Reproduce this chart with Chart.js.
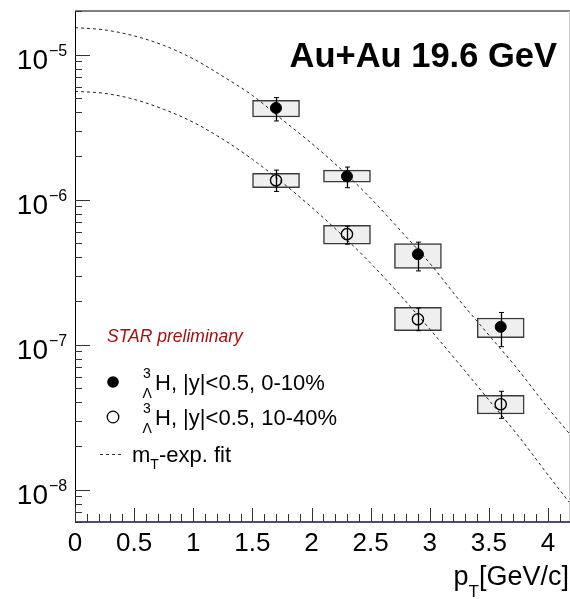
<!DOCTYPE html>
<html>
<head>
<meta charset="utf-8">
<script src="https://cdn.jsdelivr.net/npm/chart.js@4.4.1/dist/chart.umd.min.js"></script>
<style>
html, body { margin: 0; padding: 0; background: #fff; }
#wrap { width: 570px; height: 599px; }
</style>
</head>
<body>
<div id="wrap"><canvas id="ptChart" width="570" height="599"></canvas></div>
<script>
// pT bin centres [GeV/c]
const ptCenters = [1.7, 2.3, 2.9, 3.6];

// 0-10% central (filled)
const yield0_10 = [4.29e-6, 1.45e-6, 4.21e-7, 1.33e-7];
const statLo0_10 = [3.49e-6, 1.21e-6, 3.23e-7, 9.7e-8];
const statHi0_10 = [5.06e-6, 1.68e-6, 5.10e-7, 1.67e-7];
const sysLo0_10 = [3.72e-6, 1.32e-6, 3.36e-7, 1.12e-7];
const sysHi0_10 = [4.84e-6, 1.60e-6, 4.99e-7, 1.53e-7];

// 10-40% (open)
const yield10_40 = [1.36e-6, 5.79e-7, 1.50e-7, 3.89e-8];
const statLo10_40 = [1.14e-6, 4.94e-7, 1.25e-7, 3.11e-8];
const statHi10_40 = [1.60e-6, 6.57e-7, 1.79e-7, 4.78e-8];
const sysLo10_40 = [1.21e-6, 4.94e-7, 1.25e-7, 3.33e-8];
const sysHi10_40 = [1.52e-6, 6.67e-7, 1.81e-7, 4.48e-8];

// mT-exponential fit curves
const fitPt = [0, 0.25, 0.5, 0.75, 1, 1.25, 1.5, 1.75, 2, 2.25, 2.5, 2.75, 3, 3.25, 3.5, 3.75, 4, 4.19];
const fit0_10 = [1.535e-5, 1.482e-5, 1.347e-5, 1.159e-5, 9.36e-6, 7.09e-6, 5.24e-6, 3.58e-6, 2.45e-6,
                 1.62e-6, 1.024e-6, 6.16e-7, 3.65e-7, 2.03e-7, 1.166e-7, 6.69e-8, 3.66e-8, 2.39e-8];
const fit10_40 = [5.59e-6, 5.41e-6, 4.92e-6, 4.20e-6, 3.42e-6, 2.61e-6, 1.90e-6, 1.32e-6, 8.88e-7,
                  5.79e-7, 3.65e-7, 2.20e-7, 1.283e-7, 7.36e-8, 4.16e-8, 2.35e-8, 1.267e-8, 8.0e-9];

// axis ticks
const xTickValues = [0, 0.5, 1, 1.5, 2, 2.5, 3, 3.5, 4];
const xTickLabels = ['0', '0.5', '1', '1.5', '2', '2.5', '3', '3.5', '4'];
const yDecades = [-5, -6, -7, -8];

const FONT = "'Liberation Sans', Arial, Helvetica, sans-serif";

const toPoints = (xs, ys) => xs.map((x, i) => ({ x: x, y: ys[i] }));
const toBoxes = (xs, lo, hi) => xs.map((x, i) => ({ x: x, y: [lo[i], hi[i]] }));

const rootFrame = {
    id: 'rootFrame',
    afterDatasetsDraw(chart) {
        const ctx = chart.ctx;
        const xs = chart.scales.x, ys = chart.scales.y;
        ctx.save();
        ctx.strokeStyle = '#000';
        const bars = [[yield0_10, statLo0_10, statHi0_10], [yield10_40, statLo10_40, statHi10_40]];
        bars.forEach(([c, lo, hi]) => {
            ptCenters.forEach((x, i) => {
                const px = Math.round(xs.getPixelForValue(x)) + 0.5;
                const pLo = ys.getPixelForValue(lo[i]);
                const pHi = ys.getPixelForValue(hi[i]);
                ctx.lineWidth = 1.3;
                ctx.beginPath();
                ctx.moveTo(px, pLo);
                ctx.lineTo(px, pHi);
                ctx.stroke();
                ctx.lineWidth = 1;
                ctx.beginPath();
                ctx.moveTo(px - 2.5, pLo);
                ctx.lineTo(px + 2.5, pLo);
                ctx.moveTo(px - 2.5, pHi);
                ctx.lineTo(px + 2.5, pHi);
                ctx.stroke();
            });
        });
        ctx.restore();
    },
    afterDraw(chart) {
        const ctx = chart.ctx;
        const { left, right, top, bottom } = chart.chartArea;
        const xs = chart.scales.x, ys = chart.scales.y;
        ctx.save();

        // frame
        ctx.strokeStyle = '#808080';
        ctx.lineWidth = 2;
        ctx.beginPath();
        ctx.moveTo(left, top);
        ctx.lineTo(right, top);
        ctx.stroke();
        ctx.lineWidth = 1;
        ctx.strokeStyle = '#c8c8c8';
        ctx.beginPath();
        ctx.moveTo(right - 0.5, top);
        ctx.lineTo(right - 0.5, bottom);
        ctx.stroke();
        ctx.strokeStyle = '#000';
        ctx.beginPath();
        ctx.moveTo(left + 0.5, top);
        ctx.lineTo(left + 0.5, bottom);
        ctx.stroke();
        ctx.strokeStyle = '#14143a';
        ctx.lineWidth = 1.5;
        ctx.beginPath();
        ctx.moveTo(left, bottom);
        ctx.lineTo(right, bottom);
        ctx.stroke();

        // y ticks (log)
        ctx.strokeStyle = '#333';
        ctx.lineWidth = 1;
        for (let e = -9; e <= -4; e++) {
            for (let k = 1; k <= 9; k++) {
                const v = k * Math.pow(10, e);
                if (v < ys.min || v > ys.max) continue;
                const py = Math.round(ys.getPixelForValue(v)) + 0.5;
                const len = k === 1 ? 15 : 7;
                ctx.beginPath();
                ctx.moveTo(left, py);
                ctx.lineTo(left + len, py);
                ctx.stroke();
            }
        }
        // x ticks
        for (let i = 0; i <= 41; i++) {
            const v = i / 10;
            if (v > xs.max) continue;
            const px = Math.round(xs.getPixelForValue(v)) + 0.5;
            const len = i % 5 === 0 ? 14 : 8;
            ctx.beginPath();
            ctx.moveTo(px, bottom);
            ctx.lineTo(px, bottom - len);
            ctx.stroke();
        }

        ctx.fillStyle = '#000';
        // x labels
        ctx.font = '26px ' + FONT;
        ctx.textAlign = 'center';
        ctx.textBaseline = 'alphabetic';
        xTickValues.forEach((v, i) => {
            ctx.fillText(xTickLabels[i], xs.getPixelForValue(v), 551);
        });
        // y labels
        yDecades.forEach((e) => {
            const py = ys.getPixelForValue(Math.pow(10, e));
            ctx.font = '28px ' + FONT;
            ctx.textAlign = 'right';
            ctx.fillText('10', 48, py + 14);
            ctx.font = '16px ' + FONT;
            ctx.textAlign = 'left';
            ctx.fillText('\u2212' + Math.abs(e), 49, py + 1);
        });

        // x title
        ctx.textAlign = 'left';
        ctx.font = '27px ' + FONT;
        const unit = '[GeV/c]';
        const unitW = ctx.measureText(unit).width;
        ctx.font = '17px ' + FONT;
        const tW = ctx.measureText('T').width;
        ctx.font = '27px ' + FONT;
        const pW = ctx.measureText('p').width;
        let tx = 569 - unitW;
        ctx.fillText(unit, tx, 585);
        ctx.font = '17px ' + FONT;
        ctx.fillText('T', tx - tW, 597);
        ctx.font = '27px ' + FONT;
        ctx.fillText('p', tx - tW - pW, 585);

        // collision label
        ctx.font = 'bold 34.5px ' + FONT;
        ctx.textAlign = 'right';
        ctx.fillText('Au+Au 19.6 GeV', 557, 67);

        // preliminary
        ctx.textAlign = 'left';
        ctx.font = 'italic 17.5px ' + FONT;
        ctx.fillStyle = '#a50f0f';
        ctx.fillText('STAR preliminary', 107, 342);

        // legend
        ctx.fillStyle = '#000';
        ctx.strokeStyle = '#000';
        const rows = [
            { y: 390, filled: true, text: 'H, |y|<0.5, 0-10%' },
            { y: 425, filled: false, text: 'H, |y|<0.5, 10-40%' }
        ];
        rows.forEach((r) => {
            ctx.beginPath();
            ctx.arc(113, r.y - 8, 5.8, 0, Math.PI * 2);
            if (r.filled) {
                ctx.fill();
            } else {
                ctx.lineWidth = 1.3;
                ctx.stroke();
            }
            ctx.font = '14px ' + FONT;
            ctx.fillText('3', 143, r.y - 12);
            ctx.fillText('\u039B', 142.5, r.y + 8);
            ctx.font = '22px ' + FONT;
            ctx.fillText(r.text, 155, r.y);
        });
        ctx.lineWidth = 1;
        ctx.strokeStyle = '#333';
        ctx.setLineDash([3, 3]);
        ctx.beginPath();
        ctx.moveTo(100, 454.5);
        ctx.lineTo(124, 454.5);
        ctx.stroke();
        ctx.setLineDash([]);
        ctx.font = '22px ' + FONT;
        ctx.fillText('m', 132, 462);
        const mW = ctx.measureText('m').width;
        ctx.font = '14px ' + FONT;
        ctx.fillText('T', 132 + mW, 469);
        const tW2 = ctx.measureText('T').width;
        ctx.font = '22px ' + FONT;
        ctx.fillText('-exp. fit', 132 + mW + tW2, 462);

        ctx.restore();
    }
};

const canvas = document.getElementById('ptChart');

const ptChart = new Chart(canvas, {
    type: 'scatter',
    data: {
        datasets: [
            {
                type: 'bar',
                label: 'sys 0-10%',
                data: toBoxes(ptCenters, sysLo0_10, sysHi0_10),
                backgroundColor: '#efefef',
                borderColor: '#3a3a3a',
                borderWidth: 1.5,
                borderSkipped: false,
                barThickness: 47,
                grouped: false,
                order: 5
            },
            {
                type: 'bar',
                label: 'sys 10-40%',
                data: toBoxes(ptCenters, sysLo10_40, sysHi10_40),
                backgroundColor: '#efefef',
                borderColor: '#3a3a3a',
                borderWidth: 1.5,
                borderSkipped: false,
                barThickness: 47,
                grouped: false,
                order: 5
            },
            {
                type: 'line',
                label: 'fit 0-10%',
                data: toPoints(fitPt, fit0_10),
                borderColor: '#222',
                borderWidth: 1,
                borderDash: [3, 3],
                pointRadius: 0,
                cubicInterpolationMode: 'monotone',
                fill: false,
                order: 3
            },
            {
                type: 'line',
                label: 'fit 10-40%',
                data: toPoints(fitPt, fit10_40),
                borderColor: '#222',
                borderWidth: 1,
                borderDash: [3, 3],
                pointRadius: 0,
                cubicInterpolationMode: 'monotone',
                fill: false,
                order: 3
            },
            {
                label: '0-10%',
                data: toPoints(ptCenters, yield0_10),
                pointStyle: 'circle',
                pointRadius: 5.5,
                pointBorderWidth: 1,
                pointBackgroundColor: '#000',
                pointBorderColor: '#000',
                order: 1
            },
            {
                label: '10-40%',
                data: toPoints(ptCenters, yield10_40),
                pointStyle: 'circle',
                pointRadius: 5.6,
                pointBorderWidth: 1.4,
                pointBackgroundColor: 'rgba(0,0,0,0)',
                pointBorderColor: '#000',
                order: 1
            }
        ]
    },
    options: {
        responsive: false,
        animation: false,
        devicePixelRatio: 1,
        layout: { autoPadding: false, padding: { left: 75, right: 0, top: 11, bottom: 77 } },
        plugins: {
            legend: { display: false },
            tooltip: { enabled: false }
        },
        scales: {
            x: { type: 'linear', display: false, min: 0, max: 4.186, offset: false },
            y: { type: 'logarithmic', display: false, min: 6e-9, max: 2e-5 }
        }
    },
    plugins: [rootFrame]
});
</script>
</body>
</html>
